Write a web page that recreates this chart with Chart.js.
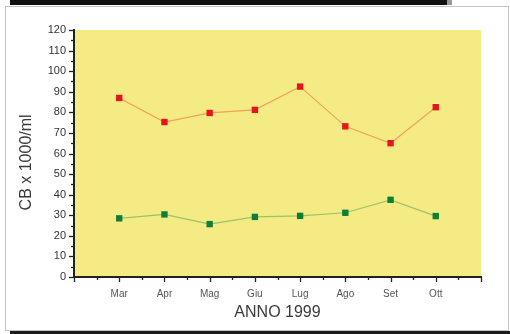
<!DOCTYPE html>
<html>
<head>
<meta charset="utf-8">
<script src="https://cdn.jsdelivr.net/npm/chart.js@4/dist/chart.umd.min.js"></script>
<style>
  body { margin: 0; background: #fff; }
  #wrap { position: relative; width: 510px; height: 334px; overflow: hidden; background: #fff; }
  .bar { position: absolute; }
  #myChart { position: absolute; left: 0; top: 0; }
</style>
</head>
<body>
<div id="wrap">
  <!-- frame bits around the chart -->
  <div class="bar" style="left:10px;top:0;width:437px;height:5px;background:#111;"></div>
  <div class="bar" style="left:447px;top:0;width:5px;height:5px;background:#999;"></div>
  <div class="bar" style="left:5px;top:6px;width:502px;height:323px;border:1px solid #c4c4c4;"></div>
  <div class="bar" style="left:10px;top:331px;width:500px;height:3px;background:#1a1a1a;"></div>
  <canvas id="myChart" width="510" height="334"></canvas>
</div>
<script>
// Months on the x axis (placed at 1..8 on a 0..9 axis)
const months = ['Mar', 'Apr', 'Mag', 'Giu', 'Lug', 'Ago', 'Set', 'Ott'];
// Values
const redValues = [87, 75.3, 79.7, 81.2, 92.5, 73.2, 65, 82.5];
const greenValues = [28.5, 30.4, 25.7, 29.2, 29.7, 31.2, 37.5, 29.6];
// Axis tick settings
const yTicks = [0, 120, 10];
const xRange = [0, 9];

const toPoints = (vals) => vals.map((v, i) => ({x: i + 1, y: v}));

// Yellow plot background + hand drawn major/minor tick marks
const plotDecor = {
  id: 'plotDecor',
  beforeDraw(chart) {
    const {ctx, chartArea: a} = chart;
    ctx.save();
    ctx.fillStyle = '#F5EB84';
    ctx.fillRect(a.left, a.top, a.right - a.left, a.bottom - a.top);
    ctx.restore();
  },
  afterDraw(chart) {
    const {ctx, chartArea: a, scales} = chart;
    ctx.save();
    ctx.strokeStyle = '#222';
    ctx.lineWidth = 1.3;
    scales.y.ticks.forEach(t => {
      const y = Math.round(scales.y.getPixelForValue(t.value)) + 0.5;
      const len = t.value % yTicks[2] === 0 ? 5 : 3;
      ctx.beginPath();
      ctx.moveTo(a.left - len, y);
      ctx.lineTo(a.left, y);
      ctx.stroke();
    });
    scales.x.ticks.forEach(t => {
      const x = Math.round(scales.x.getPixelForValue(t.value)) + 0.5;
      const len = Number.isInteger(t.value) ? 5 : 3;
      ctx.beginPath();
      ctx.moveTo(x, a.bottom);
      ctx.lineTo(x, a.bottom + len);
      ctx.stroke();
    });
    ctx.restore();
  }
};

var ctx = document.getElementById('myChart').getContext('2d');
new Chart(ctx, {
  type: 'line',
  data: {
    datasets: [{
      label: 'rosso',
      data: toPoints(redValues),
      borderColor: '#F2A05A',
      borderWidth: 1.2,
      pointStyle: 'rect',
      pointRadius: 4.5,
      pointBackgroundColor: '#E5141E',
      pointBorderColor: '#E5141E',
      pointBorderWidth: 0,
      tension: 0
    }, {
      label: 'verde',
      data: toPoints(greenValues),
      borderColor: '#9CC464',
      borderWidth: 1.2,
      pointStyle: 'rect',
      pointRadius: 4.5,
      pointBackgroundColor: '#0E7E36',
      pointBorderColor: '#0E7E36',
      pointBorderWidth: 0,
      tension: 0
    }]
  },
  options: {
    responsive: false,
    animation: false,
    devicePixelRatio: 1,
    layout: { padding: {top: 30, right: 29, bottom: 0, left: 0} },
    plugins: { legend: { display: false }, tooltip: { enabled: false } },
    scales: {
      x: {
        type: 'linear',
        min: xRange[0],
        max: xRange[1],
        afterFit: (s) => { s.height = 57; },
        grid: { display: false, drawTicks: false },
        border: { display: true, color: '#222', width: 2 },
        ticks: {
          stepSize: 0.5,
          autoSkip: false,
          maxRotation: 0,
          padding: 11,
          color: '#555',
          font: { family: 'Liberation Sans, Arial', size: 10 },
          callback: (v) => (Number.isInteger(v) && v >= 1 && v <= months.length) ? months[v - 1] : ''
        },
        title: {
          display: true,
          text: 'ANNO 1999',
          color: '#3a3a3a',
          font: { family: 'Liberation Sans, Arial', size: 16 },
          padding: { top: 0, bottom: 12 }
        }
      },
      y: {
        min: yTicks[0],
        max: yTicks[1],
        afterFit: (s) => { s.width = 74; },
        grid: { display: false, drawTicks: false },
        border: { display: true, color: '#222', width: 2 },
        ticks: {
          stepSize: yTicks[2] / 2,
          autoSkip: false,
          padding: 8,
          color: '#333',
          font: { family: 'Liberation Sans, Arial', size: 11 },
          callback: (v) => v % yTicks[2] === 0 ? v : ''
        },
        title: {
          display: true,
          // trailing spaces nudge the rotated title a bit lower, like the original
          text: 'CB x 1000/ml    ',
          color: '#3a3a3a',
          font: { family: 'Liberation Sans, Arial', size: 16 },
          padding: { top: 17, bottom: 0 }
        }
      }
    }
  },
  plugins: [plotDecor]
});
</script>
</body>
</html>
